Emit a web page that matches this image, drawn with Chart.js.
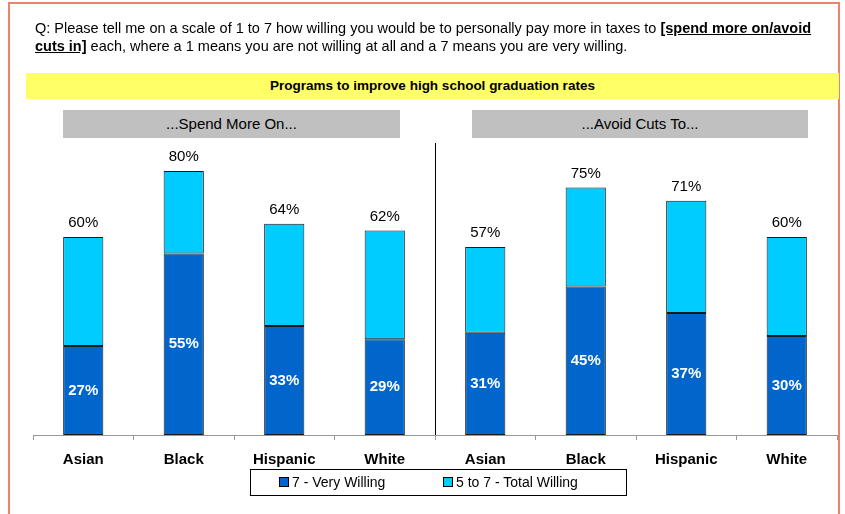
<!DOCTYPE html>
<html>
<head>
<meta charset="utf-8">
<script src="https://cdn.jsdelivr.net/npm/chart.js@4.4.0/dist/chart.umd.min.js"></script>
<style>
  body { margin: 0; background: #fff; font-family: 'Liberation Sans', Arial, sans-serif; }
  #wrap { position: relative; width: 845px; height: 514px; overflow: hidden; }
  #frame { position: absolute; left: 8px; top: 2px; width: 832px; height: 530px; border: 2px solid #e8866c; box-sizing: border-box; }
  #question { position: absolute; left: 35px; top: 19px; width: 790px; font-size: 14.5px; line-height: 18px; color: #000; }
  #question b { text-decoration: underline; }
  #band { position: absolute; left: 26px; top: 73px; width: 813px; height: 26px; background: #ffff66; font-weight: bold; font-size: 13.5px; line-height: 26px; text-align: center; }
  .panel { position: absolute; top: 110px; height: 28px; background: #c0c0c0; font-size: 15px; line-height: 28px; text-align: center; }
  #legend { position: absolute; left: 250px; top: 469px; width: 377px; height: 27px; border: 1px solid #000; box-sizing: border-box; font-size: 14px; line-height: 25px; background: #fff; }
  #legend span { position: absolute; top: 0; }
  #legend i { display: inline-block; width: 8px; height: 8px; border: 1px solid #000; margin-right: 3px; vertical-align: 0px; }
  canvas { position: absolute; left: 0; top: 0; }
</style>
</head>
<body>
<div id="wrap">
  <canvas id="chart" width="845" height="514"></canvas>
  <div id="frame"></div>
  <div id="question">Q: Please tell me on a scale of 1 to 7 how willing you would be to personally pay more in taxes to <b>[spend more on/avoid cuts in]</b> each, where a 1 means you are not willing at all and a 7 means you are very willing.</div>
  <div id="band">Programs to improve high school graduation rates</div>
  <div class="panel" style="left:63px;width:337px">...Spend More On...</div>
  <div class="panel" style="left:472px;width:336px">...Avoid Cuts To...</div>
  <div id="legend">
    <span style="left:28px"><i style="background:#0066cc"></i>7 - Very Willing</span>
    <span style="left:192px"><i style="background:#00ccff"></i>5 to 7 - Total Willing</span>
  </div>
</div>
<script>
const categories = ['Asian', 'Black', 'Hispanic', 'White', 'Asian', 'Black', 'Hispanic', 'White']
// first four: spend more on, last four: avoid cuts to
const veryWilling = [27, 55, 33, 29, 31, 45, 37, 30]
const totalWilling = [60, 80, 64, 62, 57, 75, 71, 60]

// the light segment sits on top of the dark one, so stack the remainder
const restOfTotal = totalWilling.map((t, i) => t - veryWilling[i])

const barLabels = {
  id: 'barLabels',
  afterDatasetsDraw (chart) {
    const ctx = chart.ctx
    const dark = chart.getDatasetMeta(0).data
    const light = chart.getDatasetMeta(1).data
    ctx.save()
    ctx.textAlign = 'center'
    ctx.textBaseline = 'middle'
    dark.forEach((bar, i) => {
      ctx.fillStyle = '#fff'
      ctx.font = 'bold 15px "Liberation Sans", Arial'
      ctx.fillText(veryWilling[i] + '%', bar.x, (bar.y + bar.base) / 2)
    })
    light.forEach((bar, i) => {
      ctx.fillStyle = '#000'
      ctx.font = '15px "Liberation Sans", Arial'
      ctx.fillText(totalWilling[i] + '%', bar.x, bar.y - 14)
    })
    ctx.restore()
  }
}

const divider = {
  id: 'divider',
  afterDraw (chart) {
    const x = chart.scales.x
    const px = Math.round((x.getPixelForValue(3) + x.getPixelForValue(4)) / 2) + 0.5
    const ctx = chart.ctx
    ctx.save()
    ctx.strokeStyle = '#000'
    ctx.lineWidth = 1
    ctx.beginPath()
    ctx.moveTo(px, 143)
    ctx.lineTo(px, chart.chartArea.bottom)
    ctx.stroke()
    ctx.restore()
  }
}

const chart = new Chart(document.getElementById('chart'), {
  type: 'bar',
  data: {
    labels: categories,
    datasets: [{
      label: '7 - Very Willing',
      data: veryWilling,
      backgroundColor: '#0066cc',
      borderColor: '#1a1a1a',
      borderWidth: 1,
      borderSkipped: false
    }, {
      label: '5 to 7 - Total Willing',
      data: restOfTotal,
      backgroundColor: '#00ccff',
      borderColor: '#1a1a1a',
      borderWidth: 1,
      borderSkipped: false
    }]
  },
  options: {
    responsive: false,
    animation: false,
    layout: { padding: { left: 33, right: 8, top: 105, bottom: 34 } },
    datasets: { bar: { barPercentage: 0.4, categoryPercentage: 1 } },
    plugins: { legend: { display: false }, tooltip: { enabled: false } },
    scales: {
      x: {
        stacked: true,
        border: { display: true, color: '#999' },
        grid: { drawOnChartArea: false, drawTicks: true, tickLength: 5, color: '#999', offset: true },
        ticks: { color: '#000', font: { family: '"Liberation Sans", Arial', size: 15, weight: 'bold' }, padding: 11 }
      },
      y: {
        stacked: true,
        display: false,
        min: 0,
        max: 100
      }
    }
  },
  plugins: [barLabels, divider]
})
</script>
</body>
</html>
